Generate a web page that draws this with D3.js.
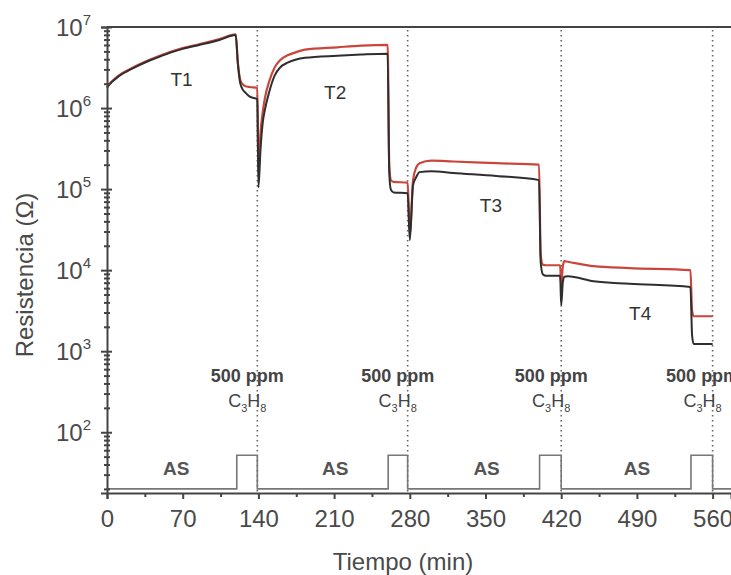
<!DOCTYPE html>
<html>
<head>
<meta charset="utf-8">
<script src="https://cdn.jsdelivr.net/npm/d3@7"></script>
<style>
  body { margin: 0; background: #fff; }
  svg text { font-family: "Liberation Sans", Arial, sans-serif; }
</style>
</head>
<body>
<svg class="chartContainer" width="731" height="575"></svg>
<script>
// time (min) shared by both sensor curves
var tiempo = [0, 3, 7, 14, 21, 30, 40, 50, 58, 70, 86, 104, 119, 121, 123, 125, 128, 132, 139,
  140, 142, 144, 146, 150, 155, 160, 167, 175, 183, 213, 235, 259.5, 261, 262.5, 265, 278,
  280, 283, 286, 289, 300, 320, 360, 399.5, 401, 403, 406, 419, 420, 421.5, 423, 426, 450,
  483, 539.5, 541, 542.5, 560];

// resistance of the red sensor (ohm)
var resRoja = [1.82e6, 2.04e6, 2.29e6, 2.69e6, 3.02e6, 3.47e6, 3.98e6, 4.47e6, 4.9e6, 5.5e6,
  6.17e6, 7.08e6, 8.13e6, 3.63e6, 2.29e6, 2.0e6, 1.86e6, 1.82e6, 1.78e6,
  1.58e5, 5.0e5, 8.9e5, 1.32e6, 2.14e6, 3.16e6, 3.89e6, 4.47e6, 4.9e6, 5.25e6, 5.62e6, 5.89e6,
  6.03e6, 2.0e5, 1.29e5, 1.23e5, 1.2e5,
  2.8e4, 1.29e5, 1.86e5, 2.09e5, 2.24e5, 2.19e5, 2.09e5, 2.0e5, 1.58e4, 1.17e4, 1.15e4, 1.15e4,
  6.3e3, 1.12e4, 1.29e4, 1.27e4, 1.12e4, 1.06e4, 1.0e4, 3.16e3, 2.7e3, 2.7e3];

// resistance of the black sensor (ohm)
var resNegra = [1.78e6, 2.0e6, 2.24e6, 2.63e6, 2.95e6, 3.39e6, 3.89e6, 4.37e6, 4.79e6, 5.37e6,
  6.03e6, 6.92e6, 7.94e6, 3.55e6, 2.09e6, 1.74e6, 1.55e6, 1.38e6, 1.29e6,
  1.05e5, 3.16e5, 6.6e5, 9.5e5, 1.58e6, 2.51e6, 3.16e6, 3.63e6, 3.98e6, 4.17e6, 4.42e6, 4.57e6,
  4.68e6, 1.58e5, 9.8e4, 9.1e4, 8.9e4,
  2.34e4, 1.12e5, 1.41e5, 1.62e5, 1.66e5, 1.58e5, 1.45e5, 1.29e5, 1.26e4, 8.9e3, 8.5e3, 8.5e3,
  3.7e3, 7.1e3, 8.3e3, 8.4e3, 7.3e3, 6.8e3, 6.2e3, 1.58e3, 1.23e3, 1.23e3];

// gas signal (air AS / 500 ppm C3H8), step shaped
var gasTiempo = [0, 120, 139, 260, 278, 400, 420, 540, 560, 577];
var gasNivel = [20, 52, 20, 52, 20, 52, 20, 52, 20, 20];

// moments where propane is switched off
var corteGas = [139, 278, 420, 560];

var xTicks = [0, 70, 140, 210, 280, 350, 420, 490, 560];
var xMinor = [35, 105, 175, 245, 315, 385, 455, 525];
var yTicks = [1e2, 1e3, 1e4, 1e5, 1e6, 1e7];
var yExpon = ["2", "3", "4", "5", "6", "7"];

var etiquetasT = ["T1", "T2", "T3", "T4"];
var etiquetasAS = ["AS", "AS", "AS", "AS"];

var svg = d3.select(".chartContainer");
var gris = "#4a4a4a";

var x = d3.scaleLinear().domain([0, 577]).range([107, 731]);
var y = d3.scaleLog().domain([17.8, 1e7]).range([493, 27]);

// dotted vertical markers
svg.selectAll(".corte").data(corteGas).enter().append("line")
  .attr("x1", function (d) { return x(d); })
  .attr("x2", function (d) { return x(d); })
  .attr("y1", 30).attr("y2", 493)
  .style("stroke", "#666").style("stroke-width", 1.6)
  .style("stroke-dasharray", "1.6,3.4");

// gas step signal
var gasData = gasTiempo.map(function (t, i) { return [t, gasNivel[i]]; });
svg.append("path")
  .datum(gasData)
  .attr("d", d3.line()
    .x(function (d) { return x(d[0]); })
    .y(function (d) { return y(d[1]); })
    .curve(d3.curveStepAfter))
  .style("fill", "none").style("stroke", "#777").style("stroke-width", 1.6);

// sensor curves
var linea = d3.line()
  .x(function (d) { return x(d[0]); })
  .y(function (d) { return y(d[1]); })
  .curve(d3.curveMonotoneX);

var roja = tiempo.map(function (t, i) { return [t, resRoja[i]]; });
var negra = tiempo.map(function (t, i) { return [t, resNegra[i]]; });

svg.append("path").datum(roja).attr("d", linea)
  .style("fill", "none").style("stroke", "#c8463c").style("stroke-width", 2.2)
  .style("stroke-linejoin", "round");
svg.append("path").datum(negra).attr("d", linea)
  .style("fill", "none").style("stroke", "#2e2e2e").style("stroke-width", 2)
  .style("stroke-linejoin", "round");

// x axis
var xAxis = svg.append("g").attr("transform", "translate(0,493)")
  .call(d3.axisBottom(x).tickValues(xTicks).tickSize(6).tickPadding(11));
svg.append("g").attr("transform", "translate(0,493)")
  .call(d3.axisBottom(x).tickValues(xMinor).tickSize(4).tickFormat(""))
  .select(".domain").remove();
xAxis.selectAll("text").style("font-size", "24px").style("fill", gris);

// y axis, ticks on both sides
var minors = [];
[1, 2, 3, 4, 5, 6].forEach(function (k) {
  for (var m = 2; m < 10; m++) {
    var v = m * Math.pow(10, k);
    if (v > 17.8 && v < 1e7) minors.push(v);
  }
});
svg.append("g").attr("transform", "translate(107,0)")
  .call(d3.axisLeft(y).tickValues(yTicks).tickSize(6).tickFormat(""));
svg.append("g").attr("transform", "translate(107,0)")
  .call(d3.axisRight(y).tickValues(yTicks).tickSize(5).tickFormat(""))
  .select(".domain").remove();
svg.append("g").attr("transform", "translate(107,0)")
  .call(d3.axisLeft(y).tickValues(minors).tickSize(3).tickFormat(""))
  .select(".domain").remove();
svg.append("g").attr("transform", "translate(107,0)")
  .call(d3.axisRight(y).tickValues(minors).tickSize(3).tickFormat(""))
  .select(".domain").remove();

svg.selectAll(".domain, .tick line").style("stroke", "#444").style("stroke-width", 2);

// top frame line
svg.append("line")
  .attr("x1", 107).attr("x2", 731).attr("y1", y(1e7)).attr("y2", y(1e7))
  .style("stroke", "#444").style("stroke-width", 2);

// y tick labels as 10^n
var yLab = svg.selectAll(".ylab").data(yTicks).enter().append("text")
  .attr("x", 91)
  .attr("y", function (d) { return y(d) + 9; })
  .attr("text-anchor", "end")
  .style("fill", gris);
yLab.append("tspan").text("10").style("font-size", "24px");
yLab.append("tspan").attr("dy", -11).style("font-size", "15px")
  .text(function (d, i) { return yExpon[i]; });

// axis titles
svg.append("text")
  .attr("transform", "translate(33,275) rotate(-90)")
  .attr("text-anchor", "middle")
  .style("font-size", "24px").style("fill", gris)
  .text("Resistencia (\u03A9)");
svg.append("text")
  .attr("x", 403).attr("y", 570)
  .attr("text-anchor", "middle")
  .style("font-size", "24px").style("fill", gris)
  .text("Tiempo (min)");

// T labels over each step
var posT = [[69, 2.3e6], [211, 1.6e6], [355, 6.3e4], [493, 3.0e3]];
svg.selectAll(".tlab").data(etiquetasT).enter().append("text")
  .attr("x", function (d, i) { return x(posT[i][0]); })
  .attr("y", function (d, i) { return y(posT[i][1]) + 7; })
  .attr("text-anchor", "middle")
  .style("font-size", "19px").style("fill", "#333")
  .text(function (d) { return d; });

// AS labels in the gas trace
var posAS = [64, 211, 351, 490];
svg.selectAll(".aslab").data(etiquetasAS).enter().append("text")
  .attr("x", function (d, i) { return x(posAS[i]); })
  .attr("y", y(36) + 7)
  .attr("text-anchor", "middle")
  .style("font-size", "19px").style("font-weight", "bold").style("fill", "#555")
  .text(function (d) { return d; });

// 500 ppm C3H8 labels next to each marker
corteGas.forEach(function (t) {
  var cx = x(t) - 10;
  svg.append("text")
    .attr("x", cx).attr("y", 382)
    .attr("text-anchor", "middle")
    .style("font-size", "18px").style("font-weight", "bold").style("fill", "#444")
    .text("500 ppm");
  var f = svg.append("text")
    .attr("x", cx).attr("y", 407)
    .attr("text-anchor", "middle")
    .style("font-size", "18px").style("fill", "#444");
  f.append("tspan").text("C");
  f.append("tspan").attr("dy", 5).style("font-size", "11px").text("3");
  f.append("tspan").attr("dy", -5).text("H");
  f.append("tspan").attr("dy", 5).style("font-size", "11px").text("8");
});
</script>
</body>
</html>
